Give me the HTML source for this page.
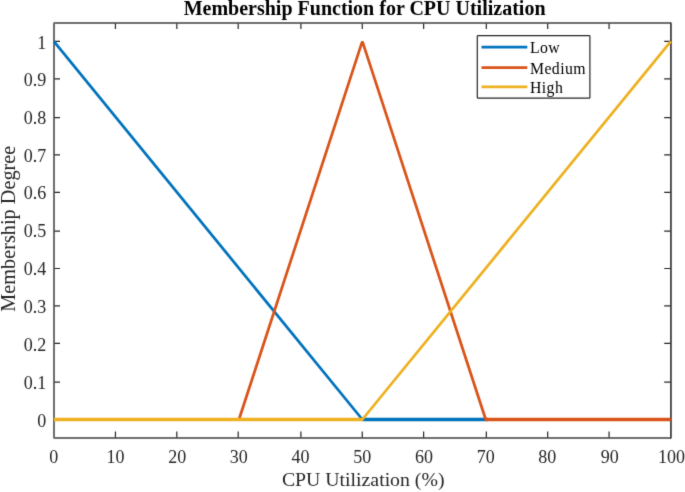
<!DOCTYPE html>
<html lang="en">
<head>
<meta charset="utf-8">
<title>Membership Function for CPU Utilization</title>
<style>
html,body{margin:0;padding:0;background:#fff;}
body{width:685px;height:492px;overflow:hidden;}
svg{display:block;}
text{font-family:"Liberation Serif","Times New Roman",serif;}
.tick{font-size:18px;fill:#262626;}
.lab{font-size:19.8px;fill:#262626;}
.title{font-size:20px;font-weight:bold;fill:#000;}
.leg{font-size:15.8px;letter-spacing:0.4px;fill:#000;}
</style>
</head>
<body>
<svg width="685" height="492" viewBox="0 0 685 492">
<defs><filter id="soft" color-interpolation-filters="sRGB" x="0" y="0" width="685" height="492" filterUnits="userSpaceOnUse"><feConvolveMatrix order="3" kernelMatrix="0.01210 0.08580 0.01210 0.08580 0.60840 0.08580 0.01210 0.08580 0.01210" divisor="1" edgeMode="duplicate" preserveAlpha="false"/></filter></defs>
<rect x="0" y="0" width="685" height="492" fill="#ffffff"/>
<g filter="url(#soft)">
<rect x="-2" y="-2" width="689" height="496" fill="#ffffff"/>
<text class="title" x="364.6" y="15.0" text-anchor="middle">Membership Function for CPU Utilization</text>
<g fill="#6e6e6e" shape-rendering="crispEdges">
<rect x="53" y="22" width="2" height="417"/>
<rect x="53" y="22" width="619" height="2"/>
<rect x="53" y="437" width="619" height="2"/>
<rect x="670" y="22" width="1" height="417" fill="#484848"/>
<rect x="671" y="22" width="1" height="417" fill="#626262"/>
<rect x="53" y="22" width="1" height="1" fill="#ffffff" fill-opacity="0.6"/>
<rect x="671" y="22" width="1" height="1" fill="#ffffff" fill-opacity="0.6"/>
<rect x="53" y="438" width="1" height="1" fill="#ffffff" fill-opacity="0.6"/>
<rect x="671" y="438" width="1" height="1" fill="#ffffff" fill-opacity="0.6"/>
</g>
<g stroke="#262626" stroke-width="1.2" fill="none">
<path d="M115.45 437.50V431.40M115.45 23.50V29.00"/>
<path d="M176.82 437.50V431.40M176.82 23.50V29.00"/>
<path d="M238.19 437.50V431.40M238.19 23.50V29.00"/>
<path d="M300.89 437.50V431.40M300.89 23.50V29.00"/>
<path d="M362.26 437.50V431.40M362.26 23.50V29.00"/>
<path d="M423.63 437.50V431.40M423.63 23.50V29.00"/>
<path d="M486.33 437.50V431.40M486.33 23.50V29.00"/>
<path d="M547.70 437.50V431.40M547.70 23.50V29.00"/>
<path d="M609.07 437.50V431.40M609.07 23.50V29.00"/>
<path d="M54.50 419.49H60.00M670.40 419.49H664.20"/>
<path d="M54.50 382.08H60.00M670.40 382.08H664.20"/>
<path d="M54.50 343.34H60.00M670.40 343.34H664.20"/>
<path d="M54.50 305.93H60.00M670.40 305.93H664.20"/>
<path d="M54.50 268.52H60.00M670.40 268.52H664.20"/>
<path d="M54.50 231.11H60.00M670.40 231.11H664.20"/>
<path d="M54.50 192.37H60.00M670.40 192.37H664.20"/>
<path d="M54.50 154.96H60.00M670.40 154.96H664.20"/>
<path d="M54.50 117.55H60.00M670.40 117.55H664.20"/>
<path d="M54.50 78.81H60.00M670.40 78.81H664.20"/>
<path d="M54.50 41.40H60.00M670.40 41.40H664.20"/>
</g>
<polyline points="362.35,419.50 487.58,419.50" fill="none" stroke="#0072BD" stroke-width="3.40" stroke-linejoin="round" stroke-linecap="butt"/>
<polyline points="53.90,41.40 362.35,419.50 364.20,419.50" fill="none" stroke="#0072BD" stroke-width="2.75" stroke-linejoin="round" stroke-linecap="butt"/>
<polyline points="485.73,419.50 670.80,419.50" fill="none" stroke="#D95319" stroke-width="3.40" stroke-linejoin="round" stroke-linecap="butt"/>
<polyline points="237.12,419.50 238.97,419.50 361.98,42.35 362.72,42.35 485.73,419.50 487.58,419.50" fill="none" stroke="#D95319" stroke-width="2.75" stroke-linejoin="round" stroke-linecap="butt"/>
<polyline points="53.90,419.50 362.35,419.50" fill="none" stroke="#EDB120" stroke-width="3.40" stroke-linejoin="round" stroke-linecap="butt"/>
<polyline points="360.50,419.50 362.35,419.50 670.80,41.40" fill="none" stroke="#EDB120" stroke-width="2.75" stroke-linejoin="round" stroke-linecap="butt"/>
<g class="tick" text-anchor="middle">
<text x="53.75" y="462.5">0</text>
<text x="115.45" y="462.5">10</text>
<text x="177.15" y="462.5">20</text>
<text x="238.86" y="462.5">30</text>
<text x="300.56" y="462.5">40</text>
<text x="362.26" y="462.5">50</text>
<text x="423.96" y="462.5">60</text>
<text x="485.66" y="462.5">70</text>
<text x="547.37" y="462.5">80</text>
<text x="609.87" y="462.5">90</text>
<text x="671.57" y="462.5">100</text>
</g>
<g class="tick" text-anchor="end">
<text x="46.2" y="426.65">0</text>
<text x="46.2" y="388.79">0.1</text>
<text x="46.2" y="350.93">0.2</text>
<text x="46.2" y="313.07">0.3</text>
<text x="46.2" y="275.21">0.4</text>
<text x="46.2" y="237.35">0.5</text>
<text x="46.2" y="199.49">0.6</text>
<text x="46.2" y="161.63">0.7</text>
<text x="46.2" y="123.77">0.8</text>
<text x="46.2" y="85.91">0.9</text>
<text x="46.2" y="48.55">1</text>
</g>
<text class="lab" x="363.2" y="486.3" text-anchor="middle">CPU Utilization (%)</text>
<text class="lab" style="font-size:20.25px" transform="translate(15.0,228.7) rotate(-90)" text-anchor="middle">Membership Degree</text>
<rect x="477.3" y="35.7" width="112.6" height="62.5" rx="0.8" fill="#fff" stroke="#262626" stroke-width="1.2"/>
<path d="M481.5 47.10H527.3" stroke="#0072BD" stroke-width="2.7" fill="none"/>
<text class="leg" x="530.0" y="53.10">Low</text>
<path d="M481.5 67.70H527.3" stroke="#D95319" stroke-width="2.7" fill="none"/>
<text class="leg" x="530.0" y="74.40">Medium</text>
<path d="M481.5 86.80H527.3" stroke="#EDB120" stroke-width="2.7" fill="none"/>
<text class="leg" x="530.0" y="92.60">High</text>
</g>
</svg>
</body>
</html>
